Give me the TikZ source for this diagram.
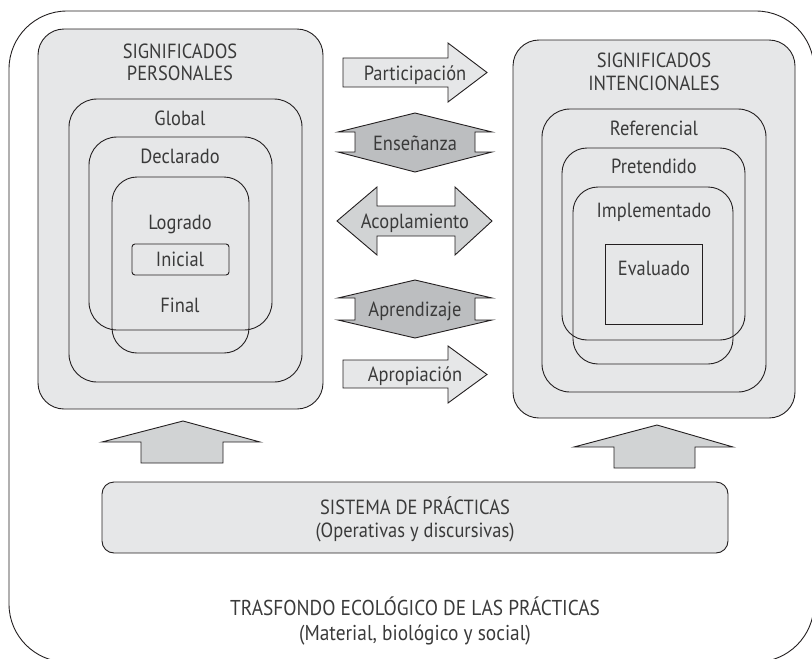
\documentclass[tikz,border=0pt]{standalone}
\usepackage{fontspec}
\setmainfont{PT Sans}[FakeStretch=0.9]
\usetikzlibrary{positioning}
\definecolor{linec}{HTML}{231F20}
\definecolor{boxgray}{HTML}{E6E7E8}
\definecolor{arrlight}{HTML}{E6E7E8}
\definecolor{arrmid}{HTML}{D1D3D4}
\definecolor{arrdark}{HTML}{BCBEC0}
\definecolor{txtc}{HTML}{3A3A3A}
\tikzset{
    frame/.style={draw=linec,line width=0.9pt,rounded corners=58pt},
    bigbox/.style={draw=linec,fill=boxgray,line width=0.9pt,rounded corners=26pt,inner sep=0pt},
    ring/.style={draw=linec,line width=0.9pt,rounded corners=28pt,inner sep=0pt},
    smallring/.style={draw=linec,line width=0.9pt,rounded corners=3pt,inner sep=0pt},
    plainbox/.style={draw=linec,line width=0.9pt,inner sep=0pt},
    lbl/.style={text=txtc,font=\fontsize{20.5}{22}\selectfont,inner sep=0pt,anchor=base},
    title/.style={text=txtc,font=\fontsize{20.5}{22}\selectfont,inner sep=0pt,align=center},
    arrbody/.style={draw=linec,line width=0.9pt,line join=miter}
}

\begin{document}
\begin{tikzpicture}[x=1pt,y=-1pt]

    \useasboundingbox (0,0) rectangle (812,659);

    % background frame
    \draw[frame] (9,11) rectangle (814,662);

    % personal meanings
    \node[bigbox,minimum width=285pt,minimum height=380pt] (personales)   at (180.5,219)   {};
    \node[ring,minimum width=233pt,minimum height=283pt]   (global)       at (185.5,240.5) {};
    \node[ring,minimum width=183pt,minimum height=193pt]   (declarado)    at (180.5,233.5) {};
    \node[ring,rounded corners=25pt,minimum width=137pt,minimum height=176pt] (logrado) at (180.5,265) {};
    \node[smallring,minimum width=97pt,minimum height=31pt] (inicial)     at (180.5,259.5) {};

    \node[title] (personalesT) at (180,62)  {SIGNIFICADOS\\PERSONALES};
    \node[lbl]   (globalT)     at (180,125) {Global};
    \node[lbl]   (declaradoT)  at (180,163) {Declarado};
    \node[lbl]   (logradoT)    at (180,229) {Logrado};
    \node[lbl]   (inicialT)    at (180,266) {Inicial};
    \node[lbl]   (finalT)      at (180,312) {Final};

    % institutional meanings
    \node[bigbox,minimum width=282pt,minimum height=378pt] (intencionales) at (654,229)   {};
    \node[ring,minimum width=224pt,minimum height=283pt]   (referencial)   at (654,250.5) {};
    \node[ring,rounded corners=25pt,minimum width=183pt,minimum height=192pt] (pretendido)   at (653.5,244)   {};
    \node[ring,rounded corners=25pt,minimum width=160pt,minimum height=177pt] (implementado) at (653,275.5)   {};
    \node[plainbox,minimum width=97pt,minimum height=80pt] (evaluado)      at (653.5,284)   {};

    \node[title,font=\fontsize{20.5}{23}\selectfont] (intencionalesT) at (654,72) {SIGNIFICADOS\\INTENCIONALES};
    \node[lbl]   (referencialT)   at (654,135) {Referencial};
    \node[lbl]   (pretendidoT)    at (654,173) {Pretendido};
    \node[lbl]   (implementadoT)  at (654,217) {Implementado};
    \node[lbl]   (evaluadoT)      at (654,275) {Evaluado};

    % middle arrows
    \draw[arrbody,fill=arrlight] (343,58) -- (448,58) -- (448,43) -- (487,72.5)
        -- (448,102) -- (448,87) -- (343,87) -- cycle;
    \draw[arrbody,fill=arrdark] (355,132) -- (338,132) -- (415,113) -- (492,132)
        -- (475,132) -- (475,152) -- (492,152) -- (415,172) -- (338,152) -- (355,152) -- cycle;
    \draw[arrbody,fill=arrmid] (337,221) -- (377,187) -- (377,206) -- (455,206) -- (455,187)
        -- (492,221) -- (455,255) -- (455,236) -- (377,236) -- (377,255) -- cycle;
    \draw[arrbody,fill=arrdark] (355,298) -- (338,298) -- (415,280) -- (492,298)
        -- (475,298) -- (475,320) -- (492,320) -- (415,338) -- (338,320) -- (355,320) -- cycle;
    \draw[arrbody,fill=arrlight] (343,360) -- (448,360) -- (448,346) -- (487,374.5)
        -- (448,403) -- (448,388) -- (343,388) -- cycle;

    \node[lbl] (participacion) at (415,80)  {Participación};
    \node[lbl] (ensenanza)     at (415,150) {Enseñanza};
    \node[lbl] (acoplamiento)  at (415,228) {Acoplamiento};
    \node[lbl] (aprendizaje)   at (415,316) {Aprendizaje};
    \node[lbl] (apropiacion)   at (415,381) {Apropiación};

    % upward arrows
    \draw[arrbody,fill=arrmid] (141,463) -- (141,442) -- (102,442) -- (183,421)
        -- (260,442) -- (223,442) -- (223,463) -- cycle;
    \draw[arrbody,fill=arrmid] (614,468) -- (614,447) -- (574,447) -- (657,425)
        -- (733,447) -- (695,447) -- (695,468) -- cycle;

    % system of practices
    \node[bigbox,rounded corners=12pt,minimum width=626pt,minimum height=71pt] (sistema) at (415,517.5) {};
    \node[title,font=\fontsize{20.5}{23}\selectfont] (sistemaT) at (415,519)
        {SISTEMA DE PRÁCTICAS\\(Operativas y discursivas)};

    \node[title,font=\fontsize{21.5}{25}\selectfont] (trasfondo) at (415,621)
        {TRASFONDO ECOLÓGICO DE LAS PRÁCTICAS\\(Material, biológico y social)};

\end{tikzpicture}
\end{document}
